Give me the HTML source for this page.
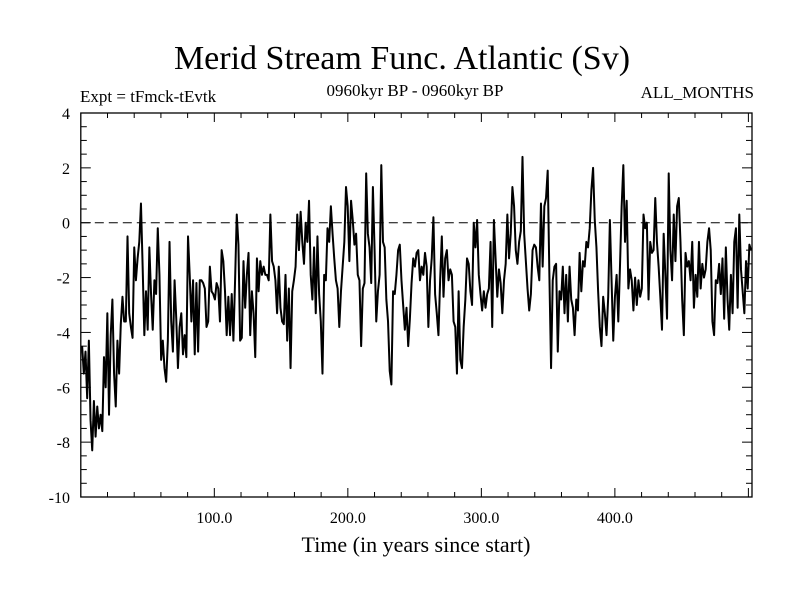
<!DOCTYPE html>
<html><head><meta charset="utf-8"><style>
html,body{margin:0;padding:0;background:#fff;}
svg{display:block;font-family:"Liberation Serif",serif;}
</style></head><body>
<svg id="chart" width="800" height="600" viewBox="0 0 800 600">
<text x="402" y="69" font-size="34" text-anchor="middle">Merid Stream Func. Atlantic (Sv)</text>
<text x="80" y="102" font-size="17">Expt = tFmck-tEvtk</text>
<text x="415" y="96" font-size="17" text-anchor="middle">0960kyr BP - 0960kyr BP</text>
<text x="754" y="98" font-size="17" text-anchor="end">ALL_MONTHS</text>
<text x="416" y="552" font-size="22" text-anchor="middle">Time (in years since start)</text>
<g id="axes"></g>
<path id="series" fill="none" stroke="#000" stroke-width="2" stroke-linejoin="round"/>
</svg>
<script>
const xTickValues = [100, 200, 300, 400];
const xTickLabels = ["100.0", "200.0", "300.0", "400.0"];
const yTickValues = [4, 2, 0, -2, -4, -6, -8, -10];
const yTickLabels = ["4", "2", "0", "-2", "-4", "-6", "-8", "-10"];
const seriesValues = [
-4.5,-5.5,-4.7,-6.4,-4.3,-7.2,-8.3,-6.5,-7.8,-6.7,-7.5,-7.0,-7.6,-4.9,-6.0,-3.3,-7.0,-4.1,-2.8,-5.5,-6.7,-4.3,-5.5,-3.7,-2.7,-3.6,-3.6,-0.5,-3.3,-3.8,-4.2,-0.9,-2.1,-1.3,-0.7,0.7,-1.6,-4.1,-2.5,-3.9,-0.9,-2.6,-3.9,-2.1,-2.6,-0.2,-1.9,-5.0,-4.3,-5.3,-5.8,-4.3,-0.7,-3.6,-4.7,-2.1,-3.5,-5.3,-3.8,-3.3,-4.8,-4.1,-4.9,-0.5,-1.9,-3.6,-2.1,-4.8,-2.2,-4.7,-2.1,-2.1,-2.2,-2.4,-3.8,-3.6,-1.6,-2.5,-2.6,-2.8,-2.2,-2.4,-3.6,-1.0,-1.4,-2.5,-4.1,-2.7,-4.1,-2.6,-4.3,-2.1,0.3,-0.8,-4.3,
-4.2,-1.4,-3.1,-1.9,-1.1,-4.1,-2.5,-3.3,-4.9,-1.3,-2.5,-1.4,-1.9,-1.6,-1.9,-1.9,-2.1,0.3,-1.4,-1.6,-2.1,-3.3,-1.6,-3.1,-3.6,-3.7,-1.9,-4.3,-2.4,-5.3,-2.5,-2.1,-1.6,0.3,-1.0,0.4,-0.7,-1.5,0,-0.7,0.8,-1.9,-2.8,-0.9,-3.3,-0.5,-2.6,-3.6,-5.5,-1.9,-2.1,-0.2,-0.7,0.6,-0.4,-1.3,-2.1,-2.4,-3.8,-2.5,-1.6,-0.7,1.3,0.6,-1.4,0.8,0.1,-0.8,-0.4,-1.9,-2.1,-4.5,-2.4,-2.2,1.8,-0.4,-0.9,-2.2,1.3,-1.0,-3.6,-2.5,-1.9,2.1,-0.7,-0.9,-2.8,-3.6,-5.4,-5.9,-2.5,-2.6,-1.9,-1.0,-0.8,-2.1,-3.0,-3.9,-3.1,-4.5,-3.5,-2.2,-1.3,-1.6,-1.1,
-1.0,-2.1,-1.6,-1.9,-1.1,-1.6,-3.8,-2.1,-1.3,0.2,-2.6,-3.3,-4.1,-2.1,-0.5,-2.7,-1.3,-1.0,-2.1,-1.7,-1.9,-3.6,-3.8,-5.5,-2.5,-5.0,-5.3,-3.8,-2.8,-1.3,-1.5,-2.5,-3.0,0,-0.9,0.1,-1.9,-2.6,-3.2,-2.5,-3.1,-2.6,-2.4,-0.7,-3.8,0.1,-1.3,-2.7,-1.7,-2.2,-3.3,-2.1,-1.5,0.3,-1.3,-0.4,1.3,0.6,-1.0,-1.5,-0.7,-0.3,2.4,-0.4,-1.4,-2.4,-3.2,-2.6,-1.0,-0.8,-0.9,-1.6,-2.1,0.7,-1.6,0.6,0.9,1.9,-1.9,-5.3,-2.1,-1.6,-1.5,-4.7,-2.5,-2.8,-1.6,-3.3,-1.9,-3.6,-1.6,-2.8,-3.1,-4.1,-2.8,-3.2,-1.1,-2.5,-1.4,-1.6,-0.7,-0.9,-0.2,1.2,
2.0,0.1,-0.9,-2.5,-3.8,-4.5,-2.7,-3.3,-4.1,-2.7,0.1,-2.1,-4.3,-2.7,-1.9,-3.6,-1.6,0.6,2.1,-0.7,0.8,-2.4,-1.7,-2.1,-3.2,-2.0,-3.0,-2.1,-2.7,-2.4,0.3,-0.2,0,-2.8,-0.7,-1.1,-1.0,0.9,-0.7,-1.6,-2.7,-3.9,-0.4,-1.9,-3.5,1.8,-1.0,-2.1,0.3,-1.4,0.6,0.9,-0.7,-2.8,-4.1,-1.1,-1.6,-1.4,-2.1,-0.7,-3.1,-1.9,-2.7,-0.7,-2.4,-1.5,-2.0,-1.7,-0.7,-0.2,-1.0,-3.6,-4.1,-2.1,-2.2,-1.5,-2.6,-1.3,-3.5,-0.9,-2.8,-3.9,-1.9,-3.3,-0.7,-0.2,-3.1,0.3,-1.7,-2.5,-3.3,-1.4,-2.4,-0.8,-1.0
];
const yearStart = 1, yearEnd = 502;

const L = 80.8, R = 752, T = 113, B = 497;
const X0 = 0, X1 = 502.7, Y0 = -10, Y1 = 4;
const xs = v => L + (v - X0) / (X1 - X0) * (R - L);
const ys = v => B - (v - Y0) / (Y1 - Y0) * (B - T);
const NS = "http://www.w3.org/2000/svg";
const axes = document.getElementById('axes');
function mk(tag, attrs) { const e = document.createElementNS(NS, tag); for (const k in attrs) e.setAttribute(k, attrs[k]); axes.appendChild(e); return e; }

const frame = mk('rect', {x: L, y: T, width: R - L, height: B - T, fill: 'none', stroke: '#000', 'stroke-width': 1.3});



const zero = mk('line', {x1: L, x2: R, y1: ys(0), y2: ys(0), stroke: '#000', 'stroke-width': 1, 'stroke-dasharray': '9,5'});



for (let v = Y0; v <= Y1 + 1e-9; v += 0.5) {
  const major = Math.abs(v - Math.round(v / 2) * 2) < 1e-9;
  const len = major ? 10 : 6;
  const t1 = mk('line', {x1: L, x2: L + len, y1: ys(v), y2: ys(v), stroke: '#000', 'stroke-width': 1});
  
  
  const t2 = mk('line', {x1: R, x2: R - len, y1: ys(v), y2: ys(v), stroke: '#000', 'stroke-width': 1});
  
  
}
yTickValues.forEach((v, i) => {
  const t = mk('text', {x: 70, y: ys(v) + 6, 'font-size': 16, 'text-anchor': 'end'});
  t.textContent = yTickLabels[i];
  
  
});
for (let v = 20; v < X1; v += 20) {
  const major = v % 100 === 0;
  const len = major ? 9 : 5;
  const t1 = mk('line', {x1: xs(v), x2: xs(v), y1: B, y2: B - len, stroke: '#000', 'stroke-width': 1});
  
  
  const t2 = mk('line', {x1: xs(v), x2: xs(v), y1: T, y2: T + len, stroke: '#000', 'stroke-width': 1});
  
  
}
xTickValues.forEach((v, i) => {
  const t = mk('text', {x: xs(v), y: 523, 'font-size': 16, 'text-anchor': 'middle'});
  t.textContent = xTickLabels[i];
  
  
});

const n = seriesValues.length;
let d = '';
seriesValues.forEach((v, i) => {
  const yr = yearStart + i * (yearEnd - yearStart) / (n - 1);
  d += (i ? 'L' : 'M') + xs(yr).toFixed(2) + ',' + ys(v).toFixed(2);
});
document.getElementById('series').setAttribute('d', d);
</script>
</body></html>
